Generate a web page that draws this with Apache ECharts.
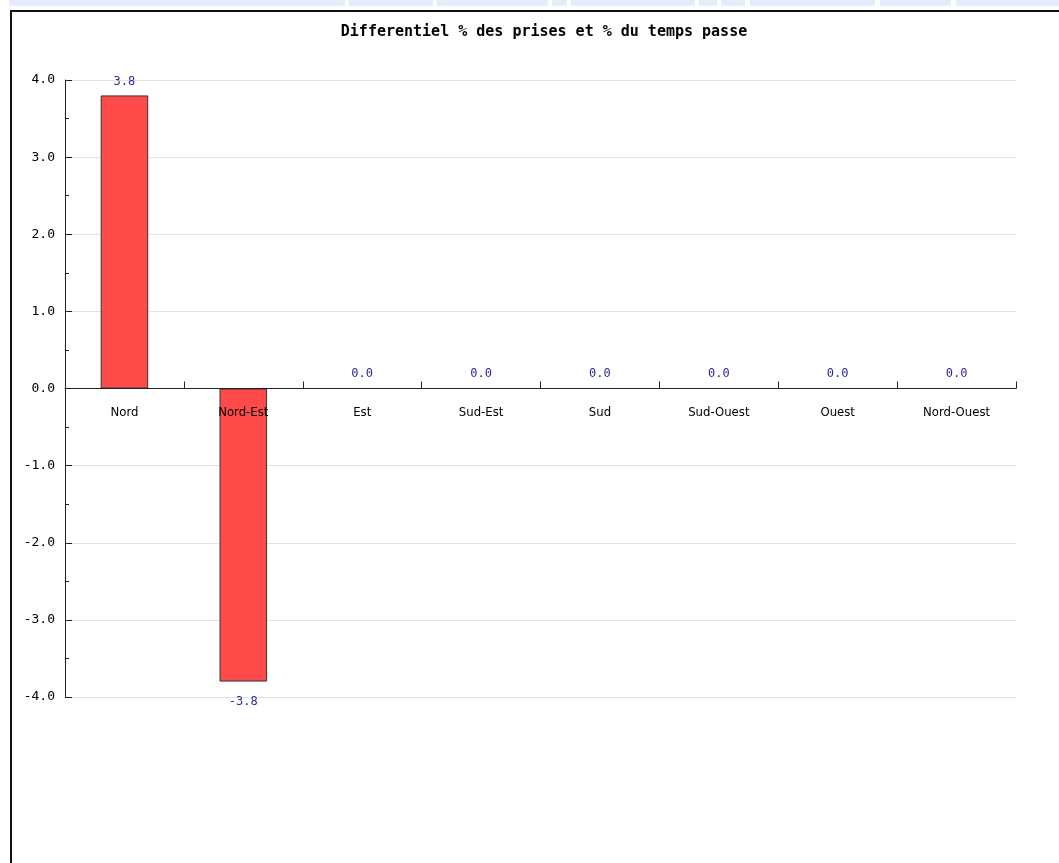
<!DOCTYPE html>
<html>
<head>
<meta charset="utf-8">
<script src="https://cdn.jsdelivr.net/npm/echarts@6/dist/echarts.min.js"></script>
<style>
html,body{margin:0;padding:0;background:#fff;}
#chart{width:1059px;height:863px;}
</style>
</head>
<body>
<div id="chart"></div>
<script>
var title = 'Differentiel % des prises et % du temps passe';
var categories = ['Nord', 'Nord-Est', 'Est', 'Sud-Est', 'Sud', 'Sud-Ouest', 'Ouest', 'Nord-Ouest'];
var values = [3.8, -3.8, 0.0, 0.0, 0.0, 0.0, 0.0, 0.0];
var yTicks = { min: -4, max: 4, interval: 1 };
// decorative top strip segments (x start, x end)
var stripSegments = [[9, 345], [349, 433], [437, 548], [552, 567], [571, 695], [699, 717], [721, 745], [750, 875], [880, 951], [956, 1059]];

var mono = '"DejaVu Sans Mono", monospace';
var narrow = '"Liberation Sans Narrow", "DejaVu Sans Condensed", "Roboto Condensed", sans-serif';

var gridTop = 80, gridBottom = 166, plotH = 863 - gridTop - gridBottom;
// distance from bottom of plot to the zero line, derived from the axis range
var zeroOffset = -plotH * (0 - yTicks.min) / (yTicks.max - yTicks.min);

var chart = echarts.init(document.getElementById('chart'), null, { renderer: 'canvas' });

var graphics = stripSegments.map(function (s) {
  return { type: 'rect', shape: { x: s[0], y: 0, width: s[1] - s[0], height: 6 }, style: { fill: '#e6ecfc' }, silent: true };
});
graphics.push({ type: 'line', shape: { x1: 11, y1: 11, x2: 1059, y2: 11 }, style: { stroke: '#111', lineWidth: 2 }, silent: true });
graphics.push({ type: 'line', shape: { x1: 11, y1: 10, x2: 11, y2: 863 }, style: { stroke: '#111', lineWidth: 2 }, silent: true });

chart.setOption({
  animation: false,
  backgroundColor: '#fff',
  title: {
    text: title,
    left: 539, top: 20, textAlign: 'center',
    textStyle: { fontFamily: mono, fontSize: 15, fontWeight: 'bold', color: '#000' }
  },
  graphic: graphics,
  grid: { left: 65, right: 43, top: gridTop, bottom: gridBottom, containLabel: false },
  xAxis: {
    type: 'category',
    data: categories,
    z: 5,
    position: 'bottom',
    offset: zeroOffset,
    axisLine: { show: true, onZero: false, lineStyle: { color: '#222', width: 1 } },
    axisTick: { show: true, inside: true, length: 7, lineStyle: { color: '#222' } },
    axisLabel: { fontFamily: narrow, fontSize: 13, color: '#000', margin: 18 },
    splitLine: { show: false }
  },
  yAxis: {
    type: 'value',
    min: yTicks.min, max: yTicks.max, interval: yTicks.interval,
    axisLine: { show: true, lineStyle: { color: '#222', width: 1 } },
    axisTick: { show: true, inside: true, length: 7, lineStyle: { color: '#222' } },
    minorTick: { show: true, splitNumber: 2, length: 4, lineStyle: { color: '#222' } },
    axisLabel: { fontFamily: mono, fontSize: 13, color: '#000', margin: 10, formatter: function (v) { return v.toFixed(1); } },
    splitLine: { show: true, lineStyle: { color: '#e2e2e2', width: 1 } }
  },
  series: [{
    type: 'bar',
    barWidth: '40%',
    itemStyle: { color: '#ff4a4a', borderColor: '#333', borderWidth: 1 },
    label: {
      show: true, position: 'top', distance: 8,
      fontFamily: mono, fontSize: 12, color: '#2a2a9a',
      formatter: function (p) { return Number(p.value).toFixed(1); }
    },
    data: values.map(function (v) {
      return { value: v, label: { position: v < 0 ? 'bottom' : 'top', distance: v < 0 ? 14 : 8 } };
    })
  }]
});
</script>
</body>
</html>
